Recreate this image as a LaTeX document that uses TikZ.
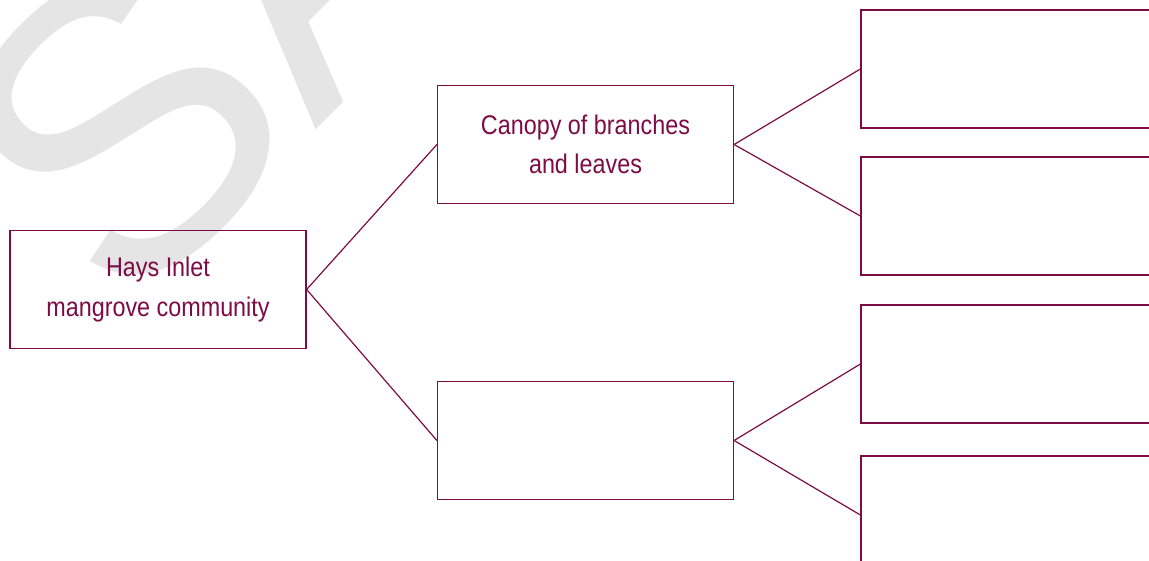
\documentclass[tikz,border=0pt]{standalone}
\usepackage{fontspec}
\setmainfont{Liberation Sans}[FakeStretch=0.865]
\newfontfamily\markfont{Liberation Sans}
\definecolor{maroon}{RGB}{125,12,70}
\definecolor{markgray}{RGB}{229,229,229}
\tikzset{
  every picture/.style={x=1pt,y=-1pt},
  box/.style={draw=maroon,line width=1.2pt,minimum width=296pt,minimum height=118pt,
    inner sep=0pt,align=center,text=maroon,font=\fontsize{27}{39.5}\selectfont},
  link/.style={draw=maroon,line width=1.2pt},
}
\begin{document}
\begin{tikzpicture}
\useasboundingbox (0,0) rectangle (1149,561);
% watermark lettering behind everything
\begin{scope}
\clip (0,0) rectangle (1149,561);
\node[anchor=base west,rotate=45,inner sep=0pt,text=markgray,
  font=\markfont\fontsize{405}{410}\selectfont] (mark) at (124,322) {SAMPLE};
\end{scope}
% boxes
\node[box] (root) at (158,289.5) {Hays Inlet\\mangrove community};
\node[box] (canopy) at (585.5,144.5) {Canopy of branches\\and leaves};
\node[box] (lower) at (585.5,440.5) {};
\begin{scope}
\clip (0,0) rectangle (1149,561);
\node[box] (r1) at (1009,69) {};
\node[box] (r2) at (1009,216) {};
\node[box] (r3) at (1009,364) {};
\node[box] (r4) at (1009,515) {};
\end{scope}
% connectors
\draw[link] (root.east) -- (canopy.west);
\draw[link] (root.east) -- (lower.west);
\draw[link] (canopy.east) -- (r1.west);
\draw[link] (canopy.east) -- (r2.west);
\draw[link] (lower.east) -- (r3.west);
\draw[link] (lower.east) -- (r4.west);
\end{tikzpicture}
\end{document}
